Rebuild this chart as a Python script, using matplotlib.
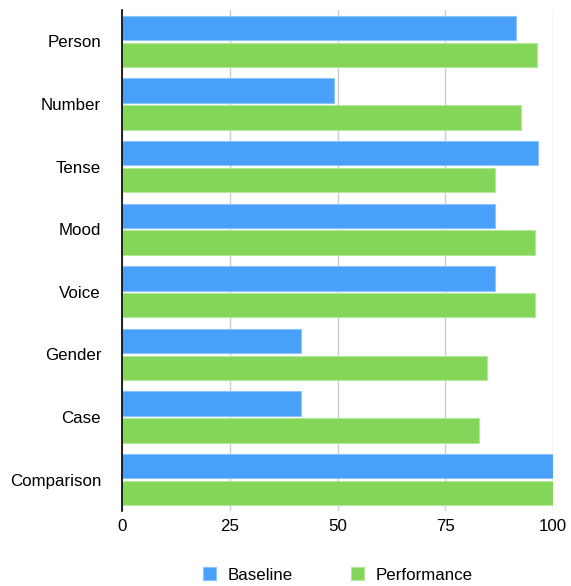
import matplotlib.pyplot as plt
import numpy as np

categories = ['Person', 'Number', 'Tense', 'Mood', 'Voice', 'Gender', 'Case', 'Comparison']
baseline = [91.3, 49.2, 96.5, 86.6, 86.6, 41.6, 41.6, 100]
performance = [96.4, 92.6, 86.6, 95.9, 95.9, 84.6, 82.8, 100]
x_ticks = [0, 25, 50, 75, 100]

blue = '#48a0f8'
green = '#84d658'

plt.rcParams['font.family'] = ['Liberation Sans', 'DejaVu Sans']

fig = plt.figure(figsize=(5.71, 5.86), dpi=100)
ax = fig.add_axes([122/571, 1-511/586, (553-122)/571, (511-10)/586])

y = np.arange(len(categories))
h = 0.39
ax.barh(y - h/2 - 0.02, baseline, height=h, color=blue, edgecolor='#8cc4fb', linewidth=0.8, label='Baseline', zorder=3)
ax.barh(y + h/2 + 0.02, performance, height=h, color=green, edgecolor='#b4e89a', linewidth=0.8, label='Performance', zorder=3)

ax.set_ylim(len(categories) - 0.5, -0.5)
ax.set_xlim(0, 100)
ax.set_yticks(y)
ax.set_yticklabels(categories, fontsize=12.2)
ax.set_xticks(x_ticks)
ax.set_xticklabels([str(t) for t in x_ticks], fontsize=12.2)
ax.tick_params(length=0)
ax.tick_params(axis='x', pad=6)
ax.tick_params(axis='y', pad=15)

ax.grid(axis='x', color='#cccccc', linewidth=1, zorder=0)
for side in ['top', 'right', 'bottom']:
    ax.spines[side].set_visible(False)
ax.spines['left'].set_color('black')
ax.spines['left'].set_linewidth(1.2)
ax.spines['left'].set_zorder(4)

fig.legend(loc='center', bbox_to_anchor=(338/571, 1-575/586), ncol=2, frameon=False,
           fontsize=12.2, handlelength=0.78, handleheight=0.78, columnspacing=3.4, handletextpad=0.7)

fig.savefig('out.png', dpi=100)
